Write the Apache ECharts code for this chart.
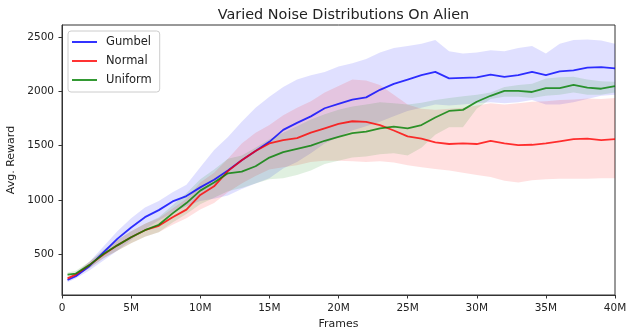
<!DOCTYPE html>
<html><head><meta charset="utf-8">
<script src="https://cdn.jsdelivr.net/npm/echarts@6/dist/echarts.min.js"></script>
<style>html,body{margin:0;padding:0;background:#fff}#c{width:628px;height:329px}</style>
</head><body><div id="c"></div>
<script>
const frames = [0.4,1,2,3,4,5,6,7,8,9,10,11,12,13,14,15,16,17,18,19,20,21,22,23,24,25,26,27,28,29,30,31,32,33,34,35,36,37,38,39,40];
const xTicks = [0,5,10,15,20,25,30,35,40];
const yTicks = [500,1000,1500,2000,2500];

const gumbelMean = [260,295,390,515,640,745,840,905,985,1035,1115,1185,1270,1365,1450,1535,1645,1710,1770,1845,1885,1925,1945,2015,2070,2110,2150,2180,2120,2125,2130,2155,2135,2150,2180,2150,2185,2195,2220,2225,2212];
const gumbelUpper = [280,320,430,570,710,830,930,990,1070,1140,1300,1460,1580,1720,1850,1950,2040,2110,2150,2180,2230,2260,2300,2360,2400,2420,2440,2475,2370,2350,2360,2380,2370,2400,2420,2350,2440,2475,2480,2470,2440];
const gumbelLower = [240,275,350,440,530,630,730,810,880,940,990,1010,1040,1100,1150,1200,1290,1350,1430,1520,1580,1640,1680,1720,1770,1820,1850,1880,1870,1880,1890,1900,1890,1900,1920,1880,1880,1900,1930,1960,1970];

const normalMean = [275,310,400,495,580,655,720,760,840,910,1045,1125,1265,1365,1450,1520,1550,1570,1620,1660,1700,1725,1720,1690,1640,1585,1565,1530,1515,1520,1515,1545,1520,1505,1508,1520,1540,1560,1565,1550,1560];
const normalUpper = [290,330,430,530,630,710,780,830,920,1010,1160,1250,1380,1520,1620,1690,1780,1850,1910,1990,2050,2110,2100,2060,1970,1880,1840,1830,1840,1850,1870,1890,1880,1890,1905,1910,1920,1925,1935,1930,1940];
const normalLower = [260,290,370,460,530,600,660,700,770,830,910,970,1070,1150,1220,1280,1300,1320,1350,1360,1360,1355,1350,1355,1345,1320,1300,1285,1270,1250,1230,1210,1175,1160,1180,1190,1195,1195,1195,1200,1200];

const uniformMean = [310,320,400,500,580,655,720,770,875,970,1085,1160,1245,1260,1310,1390,1440,1470,1500,1545,1580,1615,1630,1660,1675,1660,1690,1760,1820,1830,1905,1960,2005,2005,1995,2030,2030,2060,2035,2025,2050];
const uniformUpper = [330,345,430,540,630,710,780,840,950,1060,1190,1280,1380,1410,1480,1560,1620,1680,1740,1790,1830,1860,1880,1900,1890,1880,1895,1920,1940,1955,1970,1990,2040,2060,2070,2120,2130,2135,2110,2095,2090];
const uniformLower = [290,300,370,460,530,600,660,700,790,870,960,1020,1080,1110,1150,1190,1200,1230,1270,1330,1360,1390,1400,1420,1430,1410,1480,1600,1670,1670,1840,1930,1950,1950,1940,1960,1970,1990,1970,1970,1990];

const FONT = 'DejaVu Sans';
const pairs = (ys) => frames.map((x, i) => [x, ys[i]]);

function band(lo, hi, fill) {
  return {
    type: 'custom', silent: true, z: 1,
    data: [[frames[0], lo[0]]],
    encode: {x: 0, y: 1},
    renderItem: (params, api) => {
      const pts = [];
      for (let i = 0; i < frames.length; i++) pts.push(api.coord([frames[i], hi[i]]));
      for (let i = frames.length - 1; i >= 0; i--) pts.push(api.coord([frames[i], lo[i]]));
      return {type: 'polygon', shape: {points: pts}, style: {fill: fill}};
    }
  };
}
function line(name, ys, color) {
  return {
    name, type: 'line', data: pairs(ys), showSymbol: false, symbol: 'none', z: 5,
    lineStyle: {color, width: 1.8}, itemStyle: {color}, animation: false
  };
}

const chart = echarts.init(document.getElementById('c'));
chart.setOption({
  animation: false,
  title: {text: 'Varied Noise Distributions On Alien', left: 338.5, textAlign: 'center', top: 3,
    textStyle: {fontFamily: FONT, fontSize: 14.4, fontWeight: 'normal', color: '#222'}},
  grid: {left: 62, right: 13, top: 25, bottom: 34, show: true, borderColor: '#333', borderWidth: 1,
    outerBoundsMode: 'none', containLabel: false},
  legend: {
    left: 68, top: 31, orient: 'vertical', icon: 'rect', itemWidth: 25, itemHeight: 2, itemGap: 7,
    padding: [5, 8, 6, 4], backgroundColor: 'rgba(255,255,255,0.85)', borderColor: '#ccc', borderWidth: 1, borderRadius: 3,
    textStyle: {fontFamily: FONT, fontSize: 11.5, color: '#222', lineHeight: 12, padding: [0, 0, 0, 4]},
    data: ['Gumbel', 'Normal', 'Uniform']
  },
  xAxis: {
    type: 'value', min: 0, max: 40, interval: 5, name: 'Frames', nameLocation: 'middle', nameGap: 24,
    nameTextStyle: {fontFamily: FONT, fontSize: 11, color: '#222'},
    axisLine: {lineStyle: {color: '#333'}}, splitLine: {show: false},
    axisTick: {length: 3.5, lineStyle: {color: '#333'}, customValues: xTicks},
    axisLabel: {fontFamily: FONT, fontSize: 10.5, color: '#222', margin: 8, customValues: xTicks,
      formatter: v => v === 0 ? '0' : v + 'M'}
  },
  yAxis: {
    type: 'value', min: 122, max: 2613, name: 'Avg. Reward', nameLocation: 'middle', nameGap: 43,
    nameTextStyle: {fontFamily: FONT, fontSize: 11, color: '#222'},
    axisLine: {show: true, lineStyle: {color: '#333'}}, splitLine: {show: false},
    axisTick: {show: true, length: 3.5, lineStyle: {color: '#333'}, customValues: yTicks},
    axisLabel: {fontFamily: FONT, fontSize: 10.5, color: '#222', margin: 8, customValues: yTicks,
      formatter: v => String(v)}
  },
  series: [
    band(gumbelLower, gumbelUpper, 'rgba(0,0,255,0.12)'),
    band(normalLower, normalUpper, 'rgba(255,0,0,0.12)'),
    band(uniformLower, uniformUpper, 'rgba(0,128,0,0.12)'),
    line('Gumbel', gumbelMean, 'rgba(0,0,255,0.8)'),
    line('Normal', normalMean, 'rgba(255,0,0,0.8)'),
    line('Uniform', uniformMean, 'rgba(0,128,0,0.8)')
  ]
});
</script></body></html>
